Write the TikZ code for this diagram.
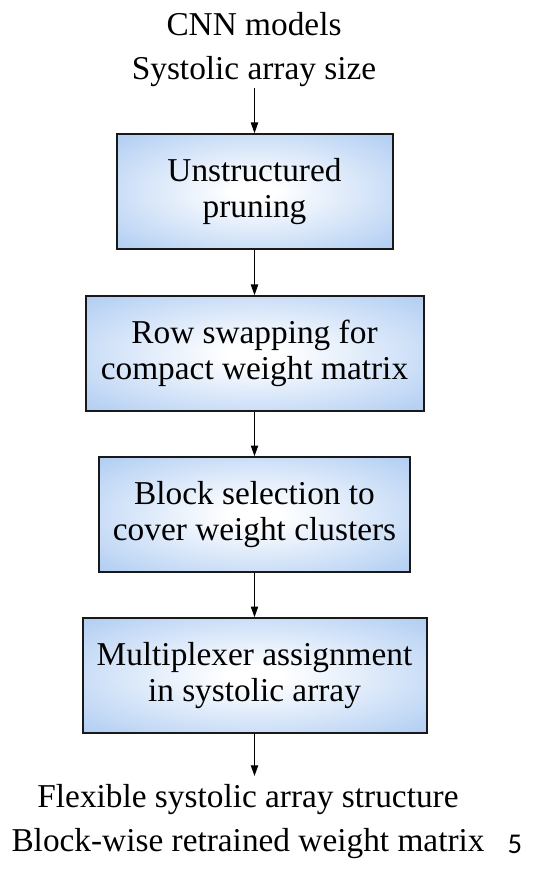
\documentclass[tikz,border=0pt]{standalone}
\usepackage{fontspec}
\setmainfont{Liberation Serif}
\newfontfamily\numfont{Carlito}
\usetikzlibrary{arrows.meta, positioning, calc}
\definecolor{boxblue}{RGB}{165,198,241}
\definecolor{boxedge}{RGB}{145,183,236}
\pgfdeclareradialshading{boxglow}{\pgfpoint{0bp}{0bp}}{color(0bp)=(white); color(4bp)=(white); color(40bp)=(boxblue); color(72bp)=(boxedge)}

\begin{document}
\begin{tikzpicture}[x=0.75pt, y=-0.75pt,
  stage/.style={draw=black!90, line width=1.5pt, shading=boxglow, minimum height=86pt, align=center, inner sep=0pt, font=\fontsize{25}{27}\selectfont},
  io/.style={align=center, inner sep=1pt, font=\fontsize{25}{32.5}\selectfont},
  arr/.style={-{Triangle[length=8pt, width=5.5pt]}, line width=0.8pt}
]
\useasboundingbox (0,0) rectangle (547,873);
\node[io, anchor=north] (inp) at (254,11) {CNN models\\Systolic array size};
\node[stage, minimum width=207pt] (prune) at (254.5,191.5) {Unstructured\\pruning};
\node[stage, minimum width=253.5pt] (swap) at (254.5,353.5) {Row swapping for\\compact weight matrix};
\node[stage, minimum width=233pt] (block) at (254.5,514.5) {Block selection to\\cover weight clusters};
\node[stage, minimum width=258pt] (mux) at (254.5,675.5) {Multiplexer assignment\\in systolic array};
\coordinate (muxend) at (254.5,776);
\node[io, anchor=north] (out) at (248,783) {Flexible systolic array structure\\Block-wise retrained weight matrix};
\node[anchor=base, font=\numfont\fontsize{21.5}{24}\selectfont] (pagenum) at (515,853) {5};
\draw[arr] (inp.south -| prune.north) -- (prune);
\draw[arr] (prune) -- (swap);
\draw[arr] (swap) -- (block);
\draw[arr] (block) -- (mux);
\draw[arr] (mux) -- (muxend);
\end{tikzpicture}
\end{document}
